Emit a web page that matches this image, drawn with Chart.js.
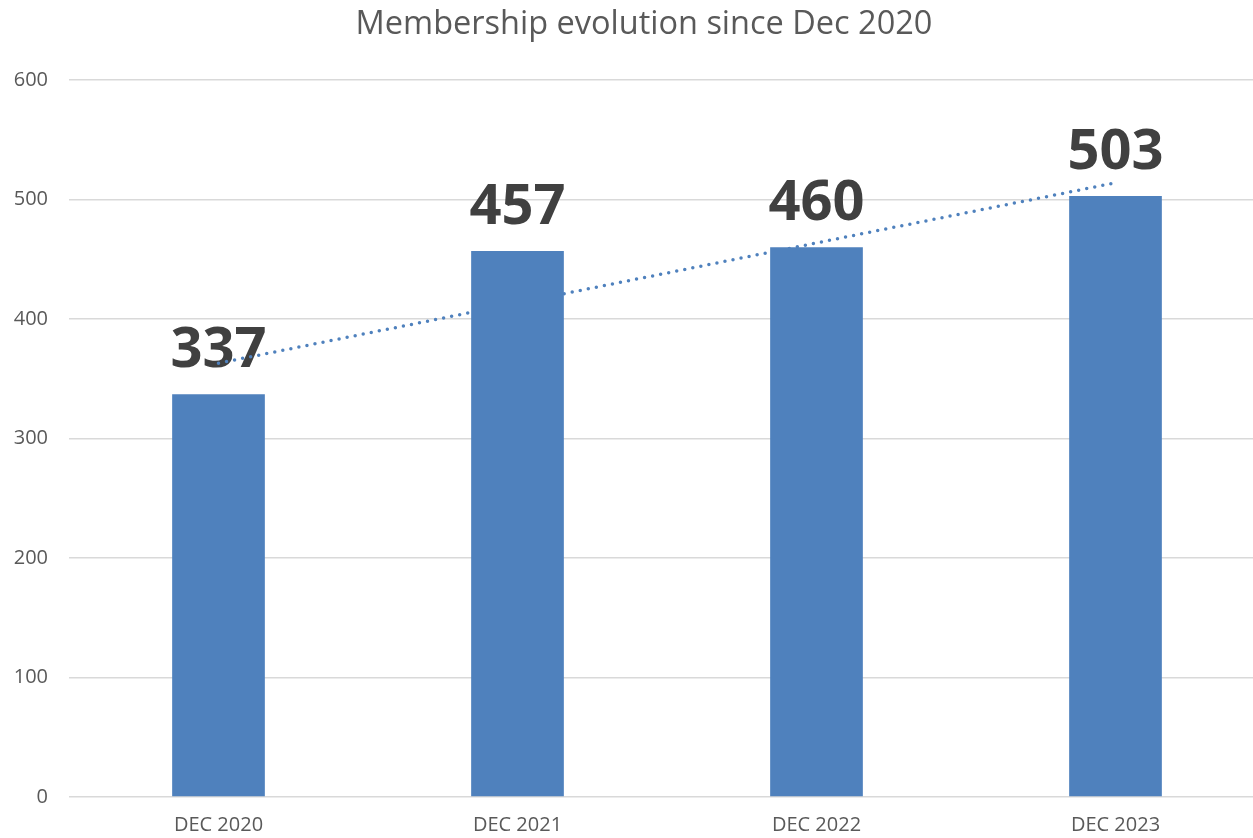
<!DOCTYPE html>
<html>
<head>
<meta charset="utf-8">
<script src="https://cdn.jsdelivr.net/npm/chart.js@4/dist/chart.umd.min.js"></script>
<style>
  html, body { margin: 0; padding: 0; background: #fff; overflow: hidden; }
  #wrap { width: 1288px; height: 838px; }
</style>
</head>
<body>
<div id="wrap"><canvas id="chart"></canvas></div>
<script>
const categories = ["DEC 2020", "DEC 2021", "DEC 2022", "DEC 2023"];
const members = [337, 457, 460, 503];
// trendline: starts at first bar, ends at last bar
const trend = [363, null, null, 514];
const yTicks = [0, 100, 200, 300, 400, 500, 600];
const chartTitle = "Membership evolution since Dec 2020";

const textGrey = "#595959";
const barBlue = "#4F81BD";

// big bold values above the bars, drawn under the trendline
const valueLabels = {
  id: "valueLabels",
  beforeDatasetsDraw(chart) {
    const ctx = chart.ctx;
    const meta = chart.getDatasetMeta(0);
    ctx.save();
    ctx.font = "bold 56px 'Open Sans'";
    ctx.fillStyle = "#404040";
    ctx.textAlign = "center";
    ctx.textBaseline = "alphabetic";
    meta.data.forEach((bar, i) => {
      ctx.fillText(String(members[i]), bar.x, bar.y - 27);
    });
    ctx.restore();
  },
};

// title centred a bit right of the canvas middle, like the original
const titleText = {
  id: "titleText",
  afterDraw(chart) {
    const ctx = chart.ctx;
    ctx.save();
    ctx.font = "32.5px 'Open Sans'";
    ctx.fillStyle = textGrey;
    ctx.textAlign = "center";
    ctx.textBaseline = "middle";
    ctx.fillText(chartTitle, 644, 25);
    ctx.restore();
  },
};

new Chart(document.getElementById("chart"), {
  data: {
    labels: categories,
    datasets: [
      {
        type: "bar",
        data: members,
        backgroundColor: barBlue,
        barPercentage: 0.31,
        categoryPercentage: 1,
        order: 1,
      },
      {
        type: "line",
        data: trend,
        spanGaps: true,
        borderColor: barBlue,
        borderWidth: 3.5,
        borderDash: [0, 8.2],
        borderCapStyle: "round",
        pointRadius: 0,
        fill: false,
        order: 2,
      },
    ],
  },
  options: {
    responsive: true,
    maintainAspectRatio: false,
    animation: false,
    layout: { padding: { left: 0, right: 23, top: 80, bottom: 0 } },
    plugins: {
      legend: { display: false },
      tooltip: { enabled: false },
      title: { display: false },
    },
    scales: {
      x: {
        grid: { display: false, drawTicks: false },
        border: { display: false },
        ticks: {
          color: textGrey,
          font: { family: "'Open Sans'", size: 20 },
          padding: 16,
          maxRotation: 0,
        },
        afterFit(scale) { scale.height = 41; },
      },
      y: {
        min: 0,
        max: 600,
        afterBuildTicks(scale) {
          scale.ticks = yTicks.map((v) => ({ value: v }));
        },
        grid: { color: "#D9D9D9", lineWidth: 1.5, drawTicks: false },
        border: { display: false },
        ticks: {
          color: textGrey,
          font: { family: "'Open Sans'", size: 20 },
          padding: 21,
        },
        afterFit(scale) { scale.width = 69; },
      },
    },
  },
  plugins: [valueLabels, titleText],
});
</script>
</body>
</html>
